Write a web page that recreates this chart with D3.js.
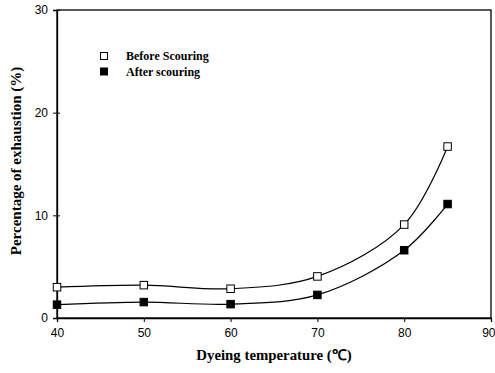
<!DOCTYPE html>
<html>
<head>
<meta charset="utf-8">
<script src="https://cdn.jsdelivr.net/npm/d3@7"></script>
<style>
  html, body { margin: 0; padding: 0; background: #fff; }
  svg { display: block; }
</style>
</head>
<body>
<svg id="chart" width="495" height="373"></svg>
<script>
// Dye exhaustion vs. temperature, before and after scouring
const temperatures = [40, 50, 60, 70, 80, 85];
const beforeScouring = [3.0, 3.2, 2.85, 4.05, 9.1, 16.7];
const afterScouring = [1.3, 1.55, 1.35, 2.25, 6.6, 11.1];
const xTicks = [40, 50, 60, 70, 80, 90];
const yTicks = [0, 10, 20, 30];

const seriesList = [
  { name: "Before Scouring", values: beforeScouring, fill: "#fff" },
  { name: "After scouring", values: afterScouring, fill: "#000" }
];

const svg = d3.select("#chart");
const m = { left: 57, top: 10, right: 491, bottom: 318 };

const x = d3.scaleLinear().domain([40, 90]).range([m.left, m.right]);
const y = d3.scaleLinear().domain([0, 30]).range([m.bottom, m.top]);

// Plot frame
svg.append("rect")
  .attr("x", m.left).attr("y", m.top)
  .attr("width", m.right - m.left).attr("height", m.bottom - m.top)
  .attr("fill", "none").attr("stroke", "#000").attr("stroke-width", 1.3);

// Axes
const xAxis = svg.append("g")
  .attr("transform", `translate(0,${m.bottom})`)
  .call(d3.axisBottom(x).tickValues(xTicks).tickSize(4).tickPadding(6));
const yAxis = svg.append("g")
  .attr("transform", `translate(${m.left},0)`)
  .call(d3.axisLeft(y).tickValues(yTicks).tickSize(4).tickPadding(5));

[xAxis, yAxis].forEach(g => {
  g.select(".domain").attr("stroke", "#000").attr("stroke-width", 1.3);
  g.selectAll(".tick line").attr("stroke", "#000").attr("stroke-width", 1);
  g.selectAll(".tick text")
    .attr("fill", "#000")
    .style("font-family", "'Liberation Sans', Arial, sans-serif")
    .style("font-size", "12px");
});
yAxis.selectAll(".tick line").attr("x2", 3).attr("x1", -4);
// keep the last x label inside the window edge
xAxis.selectAll(".tick text")
  .filter(d => d === 90)
  .attr("text-anchor", "end")
  .attr("dx", 4);

// Smoothed series lines and markers
const line = d3.line()
  .x((d, i) => x(temperatures[i]))
  .y(d => y(d))
  .curve(d3.curveCatmullRom.alpha(0.5));

seriesList.forEach(s => {
  svg.append("path")
    .datum(s.values)
    .attr("d", line)
    .attr("fill", "none")
    .attr("stroke", "#000")
    .attr("stroke-width", 1.2);
});

const ms = 7.5;
seriesList.forEach(s => {
  svg.append("g").selectAll("rect")
    .data(s.values)
    .join("rect")
    .attr("x", (d, i) => x(temperatures[i]) - ms / 2)
    .attr("y", d => y(d) - ms / 2)
    .attr("width", ms).attr("height", ms)
    .attr("fill", s.fill)
    .attr("stroke", "#000").attr("stroke-width", 1);
});

// Legend
const legend = svg.append("g").attr("transform", "translate(104,56)");
seriesList.forEach((s, i) => {
  const row = legend.append("g").attr("transform", `translate(0,${i * 15.5})`);
  row.append("rect")
    .attr("x", -3.5).attr("y", -3.5).attr("width", 7).attr("height", 7)
    .attr("fill", s.fill).attr("stroke", "#000").attr("stroke-width", 1);
  row.append("text")
    .attr("x", 22).attr("y", 4)
    .style("font-family", "'Liberation Serif', 'Times New Roman', serif")
    .style("font-weight", "bold")
    .style("font-size", "12px")
    .text(s.name);
});

// Axis titles
svg.append("text")
  .attr("x", 274).attr("y", 360)
  .attr("text-anchor", "middle")
  .style("font-family", "'Liberation Serif', 'Times New Roman', serif")
  .style("font-weight", "bold")
  .style("font-size", "14.8px")
  .text("Dyeing temperature (℃)");

svg.append("text")
  .attr("transform", "translate(21,161) rotate(-90)")
  .attr("text-anchor", "middle")
  .style("font-family", "'Liberation Serif', 'Times New Roman', serif")
  .style("font-weight", "bold")
  .style("font-size", "15px")
  .text("Percentage of exhaustion (%)");
</script>
</body>
</html>
